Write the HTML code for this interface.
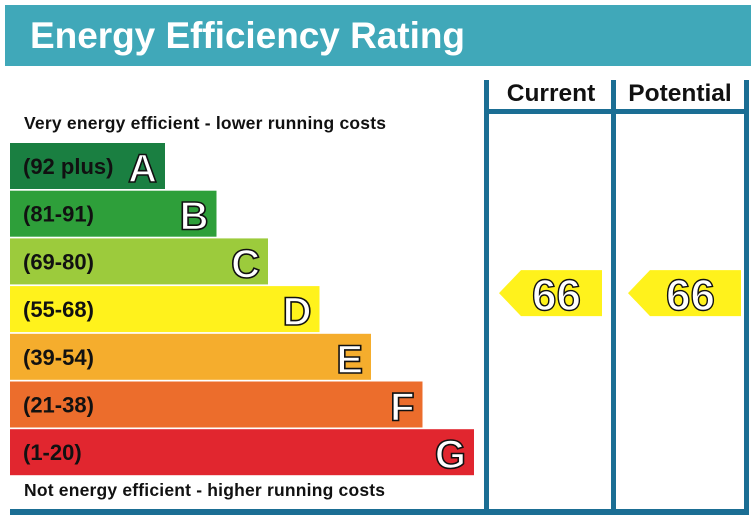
<!DOCTYPE html>
<html><head><meta charset="utf-8"><style>
body{margin:0;background:#fff;}
svg text{font-family:"Liberation Sans",Arial,sans-serif;font-weight:bold;}
</style></head><body>
<svg id="c" width="751" height="522" viewBox="0 0 751 522" xmlns="http://www.w3.org/2000/svg">
<rect x="5" y="5" width="746" height="61" fill="#40a8b9"/>
<text x="30" y="48" font-size="37" fill="#fff" textLength="435">Energy Efficiency Rating</text>
<text x="24" y="129" font-size="17.5" fill="#111" textLength="362">Very energy efficient - lower running costs</text>
<text x="24" y="496" font-size="17.5" fill="#111" textLength="361">Not energy efficient - higher running costs</text>
<g fill="#1b6e94">
<rect x="484" y="80" width="5" height="430"/>
<rect x="611" y="80" width="5" height="430"/>
<rect x="744" y="80" width="5" height="435"/>
<rect x="484" y="109" width="265" height="5"/>
<rect x="10" y="509" width="739" height="6"/>
</g>
<text x="551" y="101" font-size="24.5" text-anchor="middle" fill="#111">Current</text>
<text x="680" y="101" font-size="24.5" text-anchor="middle" fill="#111">Potential</text>
<g id="bars"></g>
<g id="arrows"></g>
</svg>
<script>
const letters=["A","B","C","D","E","F","G"];
const ranges=["(92 plus)","(81-91)","(69-80)","(55-68)","(39-54)","(21-38)","(1-20)"];
const minScores=[92,81,69,55,39,21,1];
const colors=["#1a7f41","#2e9f3a","#9ccb3c","#fff21c","#f5ad2d","#ec6d2c","#e1262f"];
const currentRating=66;
const potentialRating=66;
const NS="http://www.w3.org/2000/svg";
function bandY(i){return 143+i*47.7;}
function bandW(i){return 155+i*51.5;}
function bandOf(v){for(let i=0;i<minScores.length;i++){if(v>=minScores[i])return i;}return 6;}
function mk(t,a,p){const e=document.createElementNS(NS,t);for(const k in a)e.setAttribute(k,a[k]);p.appendChild(e);return e;}
const bars=document.getElementById('bars');
letters.forEach((L,i)=>{
 const y=bandY(i),w=bandW(i);
 const r=mk('rect',{x:10,y:y,width:w,height:46,fill:colors[i]},bars);
 
 
 const t=mk('text',{x:23,y:y+31,'font-size':22,fill:'#111'},bars);t.textContent=ranges[i];
 
 
 const l=mk('text',{x:10+w-8,y:y+39,'font-size':40,'text-anchor':'end',fill:'#fff',stroke:'#111','stroke-width':1.6},bars);l.textContent=L;
 
 
});
const arrows=document.getElementById('arrows');
[[currentRating,499,602,'current'],[potentialRating,628,741,'potential']].forEach(([v,x0,x1,n])=>{
 const i=bandOf(v),y=bandY(i)-16;
 const p=mk('polygon',{points:`${x0},${y+23} ${x0+22},${y} ${x1},${y} ${x1},${y+46} ${x0+22},${y+46}`,fill:colors[i]},arrows);
 
 
 const t=mk('text',{x:(x0+x1)/2+6,y:y+40,'font-size':44,'text-anchor':'middle',fill:'#fff',stroke:'#111','stroke-width':1.4,'font-weight':'normal'},arrows);t.textContent=v;
 
 
});
</script>
</body></html>
